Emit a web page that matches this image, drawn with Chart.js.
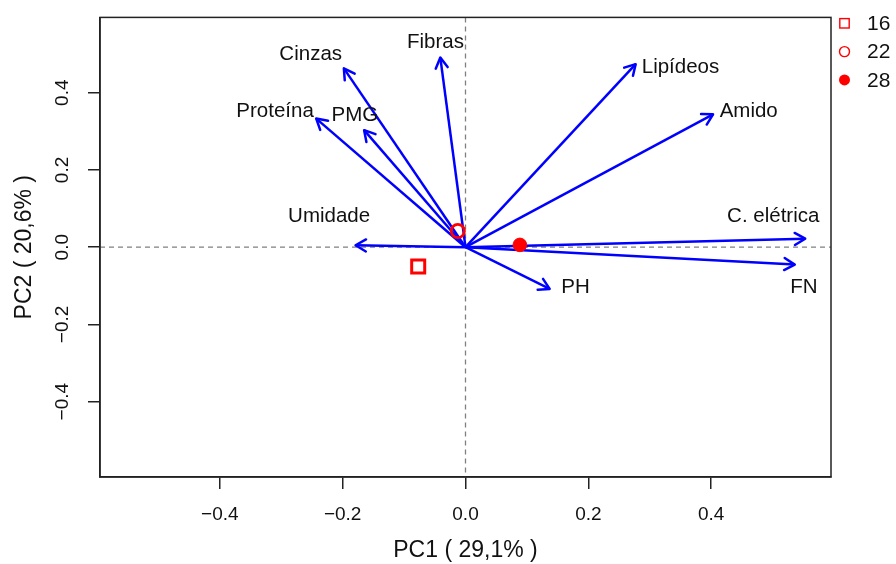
<!DOCTYPE html>
<html>
<head>
<meta charset="utf-8">
<script src="https://cdn.jsdelivr.net/npm/chart.js@4.4.1/dist/chart.umd.min.js"></script>
<style>
  html, body { margin: 0; padding: 0; background: #ffffff; }
  #wrap { width: 896px; height: 564px; }
</style>
</head>
<body>
<div id="wrap"><canvas id="c" width="896" height="564"></canvas></div>
<script>
// ---- Data ----
const variables = ['Cinzas', 'Fibras', 'Proteína', 'PMG', 'Umidade', 'Lipídeos', 'Amido', 'C. elétrica', 'FN', 'PH'];
const loadX = [-0.198, -0.041, -0.243, -0.165, -0.179, 0.277, 0.403, 0.553, 0.536, 0.137];
const loadY = [0.463, 0.491, 0.333, 0.303, 0.005, 0.474, 0.344, 0.022, -0.045, -0.108];
const labelX = [-0.252, -0.049, -0.310, -0.180, -0.222, 0.350, 0.461, 0.501, 0.551, 0.179];
const labelY = [0.499, 0.530, 0.351, 0.341, 0.081, 0.466, 0.351, 0.081, -0.103, -0.103];
const groups = ['16', '22', '28'];
const scoreX = [-0.077, -0.0125, 0.0885];
const scoreY = [-0.050, 0.042, 0.006];
const tickValues = [-0.4, -0.2, 0.0, 0.2, 0.4];
const xTitle = 'PC1 ( 29,1% )';
const yTitle = 'PC2 ( 20,6% )';

const FONT = "'Liberation Sans', Arial, Helvetica, sans-serif";
Chart.defaults.font.family = FONT;
Chart.defaults.color = '#111111';

const BLUE = '#0000ff';
const RED = '#ff0000';
const AXIS = '#222222';

const groupStyles = [
  { pointStyle: 'rect', radius: 9.2, borderWidth: 3, fill: false },
  { pointStyle: 'circle', radius: 6.6, borderWidth: 2.8, fill: false },
  { pointStyle: 'circle', radius: 6.8, borderWidth: 1, fill: true }
];

const datasets = [];
groups.forEach((g, i) => {
  const s = groupStyles[i];
  datasets.push({
    label: g,
    type: 'scatter',
    data: [{ x: scoreX[i], y: scoreY[i] }],
    pointStyle: s.pointStyle,
    pointRadius: s.radius,
    pointBorderWidth: s.borderWidth,
    pointBorderColor: RED,
    pointBackgroundColor: s.fill ? RED : 'rgba(0,0,0,0)',
    showLine: false
  });
});
variables.forEach((v, i) => {
  datasets.push({
    label: v,
    type: 'line',
    data: [{ x: 0, y: 0 }, { x: loadX[i], y: loadY[i] }],
    borderColor: BLUE,
    borderWidth: 2.5,
    pointRadius: 0,
    fill: false,
    tension: 0,
    showLine: true
  });
});

const fmt = v => {
  const s = Number(v).toFixed(1);
  return s.startsWith('-') ? '\u2212' + s.slice(1) : s;
};

const biplotPlugin = {
  id: 'biplot',
  beforeDatasetsDraw(chart) {
    const { ctx, chartArea: a, scales: { x, y } } = chart;
    ctx.save();
    ctx.beginPath();
    ctx.rect(a.left, a.top, a.right - a.left, a.bottom - a.top);
    ctx.clip();
    ctx.strokeStyle = '#808080';
    ctx.lineWidth = 1.3;
    ctx.setLineDash([5, 4]);
    const x0 = x.getPixelForValue(0), y0 = y.getPixelForValue(0);
    ctx.beginPath();
    ctx.moveTo(x0, a.top); ctx.lineTo(x0, a.bottom);
    ctx.moveTo(a.left, y0); ctx.lineTo(a.right, y0);
    ctx.stroke();
    ctx.restore();
  },
  afterDatasetsDraw(chart) {
    const { ctx, scales: { x, y } } = chart;
    ctx.save();
    // arrow heads
    ctx.strokeStyle = BLUE;
    ctx.lineWidth = 2.5;
    ctx.lineCap = 'round';
    ctx.lineJoin = 'round';
    const x0 = x.getPixelForValue(0), y0 = y.getPixelForValue(0);
    variables.forEach((v, i) => {
      const px = x.getPixelForValue(loadX[i]);
      const py = y.getPixelForValue(loadY[i]);
      const ang = Math.atan2(py - y0, px - x0);
      const L = 12, spread = Math.PI / 6;
      ctx.beginPath();
      ctx.moveTo(px - L * Math.cos(ang - spread), py - L * Math.sin(ang - spread));
      ctx.lineTo(px, py);
      ctx.lineTo(px - L * Math.cos(ang + spread), py - L * Math.sin(ang + spread));
      ctx.stroke();
    });
    // variable labels
    ctx.fillStyle = '#111111';
    ctx.font = '20.5px ' + FONT;
    ctx.textAlign = 'center';
    ctx.textBaseline = 'middle';
    variables.forEach((v, i) => {
      ctx.fillText(v, x.getPixelForValue(labelX[i]), y.getPixelForValue(labelY[i]));
    });
    ctx.restore();
  },
  afterDraw(chart) {
    const { ctx, chartArea: a } = chart;
    ctx.save();
    // frame
    ctx.strokeStyle = AXIS;
    ctx.lineWidth = 1.5;
    ctx.strokeRect(a.left, a.top, a.right - a.left, a.bottom - a.top);
    // legend
    const lx = a.right + 13.5;
    const ly0 = 23.3, dy = 28.3;
    ctx.font = '21px ' + FONT;
    ctx.textAlign = 'left';
    ctx.textBaseline = 'middle';
    groups.forEach((g, i) => {
      const yy = ly0 + i * dy;
      ctx.strokeStyle = RED;
      ctx.fillStyle = RED;
      ctx.lineWidth = 1.4;
      if (i === 0) {
        ctx.strokeRect(lx - 4.7, yy - 4.7, 9.4, 9.4);
      } else if (i === 1) {
        ctx.beginPath(); ctx.arc(lx, yy, 5, 0, Math.PI * 2); ctx.stroke();
      } else {
        ctx.beginPath(); ctx.arc(lx, yy, 5.5, 0, Math.PI * 2); ctx.fill();
      }
      ctx.fillStyle = '#111111';
      ctx.fillText(g, lx + 22.5, yy + 1);
    });
    ctx.restore();
  }
};

new Chart(document.getElementById('c'), {
  type: 'scatter',
  data: { datasets },
  options: {
    responsive: false,
    devicePixelRatio: 1,
    animation: false,
    layout: { padding: { top: 13, right: 65, left: 0, bottom: 0 } },
    plugins: { legend: { display: false }, tooltip: { enabled: false } },
    scales: {
      x: {
        type: 'linear',
        min: -0.595,
        max: 0.595,
        afterBuildTicks: s => { s.ticks = tickValues.map(v => ({ value: v })); },
        afterFit: s => { s.height = 87; },
        ticks: {
          callback: v => fmt(v),
          font: { size: 19 },
          color: '#111111',
          padding: 14,
          maxRotation: 0,
          minRotation: 0
        },
        grid: { drawOnChartArea: false, drawTicks: true, tickLength: 12, color: AXIS, lineWidth: 1.5 },
        border: { display: true, color: AXIS, width: 1.5 },
        title: { display: true, text: xTitle, font: { size: 23 }, color: '#111111', padding: { top: 0, bottom: 0 } }
      },
      y: {
        type: 'linear',
        min: -0.595,
        max: 0.595,
        afterBuildTicks: s => { s.ticks = tickValues.map(v => ({ value: v })); },
        afterFit: s => { s.width = 100; },
        ticks: {
          callback: v => fmt(v),
          font: { size: 19 },
          color: '#111111',
          padding: 6,
          minRotation: 90,
          maxRotation: 90,
          crossAlign: 'center'
        },
        grid: { drawOnChartArea: false, drawTicks: true, tickLength: 12, color: AXIS, lineWidth: 1.5 },
        border: { display: true, color: AXIS, width: 1.5 },
        title: { display: true, text: yTitle, font: { size: 23 }, color: '#111111', padding: { top: 11, bottom: 0 } }
      }
    }
  },
  plugins: [biplotPlugin]
});
</script>
</body>
</html>
